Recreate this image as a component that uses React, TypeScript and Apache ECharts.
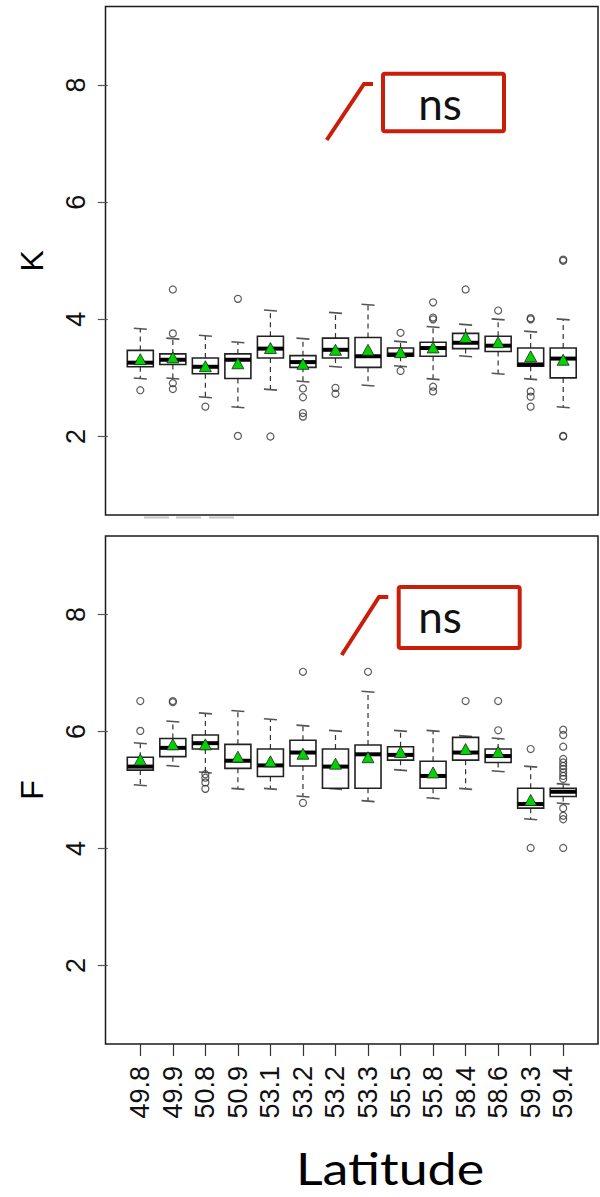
import React, { useEffect, useRef } from 'react';
import * as echarts from 'echarts';

// Categories (latitude of each population)
const latitudes = ['49.8', '49.9', '50.8', '50.9', '53.1', '53.2', '53.2', '53.3', '55.5', '55.8', '58.4', '58.6', '59.3', '59.4'];
const yTicks = [2, 4, 6, 8];

// Panel K: lower whisker, Q1, median, Q3, upper whisker, mean, outliers
const kLow = [2.99, 2.99, 2.67, 2.5, 2.8, 2.94, 3.19, 2.87, 3.2, 2.98, 3.37, 3.07, 2.98, 2.5];
const kQ1 = [3.19, 3.23, 3.07, 2.99, 3.34, 3.18, 3.34, 3.18, 3.37, 3.37, 3.5, 3.45, 3.2, 3.0];
const kMedian = [3.26, 3.31, 3.19, 3.31, 3.5, 3.27, 3.48, 3.37, 3.4, 3.51, 3.6, 3.55, 3.23, 3.33];
const kQ3 = [3.47, 3.41, 3.34, 3.41, 3.71, 3.38, 3.68, 3.69, 3.51, 3.61, 3.76, 3.71, 3.51, 3.51];
const kHigh = [3.84, 3.67, 3.72, 3.61, 4.15, 3.67, 4.11, 4.25, 3.62, 3.87, 3.91, 4.0, 3.79, 4.0];
const kMean = [3.32, 3.35, 3.2, 3.25, 3.51, 3.24, 3.48, 3.48, 3.44, 3.52, 3.7, 3.61, 3.37, 3.31];
const kOutliers = [
  [2.79],
  [4.51, 3.76, 2.91, 2.81],
  [2.51],
  [4.35, 2.01],
  [2.0],
  [2.82, 2.67, 2.4, 2.34],
  [2.83, 2.73],
  [],
  [3.77, 3.12],
  [4.29, 4.03, 4.0, 2.85, 2.77],
  [4.51],
  [4.15],
  [4.02, 4.0, 2.77, 2.68, 2.51],
  [5.02, 5.0, 2.0, 2.01],
];

// Panel F
const fLow = [5.08, 5.41, 5.3, 5.02, 5.02, 4.89, 5.02, 4.81, 5.34, 4.86, 5.02, 5.32, 4.5, 4.77];
const fQ1 = [5.34, 5.57, 5.7, 5.37, 5.23, 5.41, 5.03, 5.03, 5.51, 5.03, 5.51, 5.47, 4.69, 4.89];
const fMedian = [5.4, 5.72, 5.8, 5.5, 5.42, 5.64, 5.4, 5.61, 5.6, 5.24, 5.64, 5.58, 4.76, 4.97];
const fQ3 = [5.56, 5.88, 5.94, 5.78, 5.7, 5.85, 5.7, 5.77, 5.74, 5.49, 5.9, 5.7, 5.03, 5.03];
const fHigh = [5.8, 6.17, 6.31, 6.35, 6.21, 6.1, 6.01, 6.68, 6.01, 6.01, 5.92, 5.88, 5.4, 5.1];
const fMean = [5.52, 5.78, 5.78, 5.57, 5.49, 5.62, 5.45, 5.56, 5.65, 5.3, 5.7, 5.65, 4.83, null];
const fOutliers = [
  [6.52, 6.01],
  [6.52, 6.5],
  [5.27, 5.21, 5.13, 5.02],
  [],
  [],
  [7.02, 4.78],
  [],
  [7.02],
  [],
  [],
  [6.52],
  [6.52, 6.02],
  [5.7, 4.01],
  [6.03, 5.94, 5.74, 5.53, 5.47, 5.41, 5.36, 5.3, 5.24, 5.19, 4.69, 4.56, 4.5, 4.01],
];

const positions = latitudes.map((_, i) => i + 1);

const boxRows = (lo: number[], q1: number[], md: number[], q3: number[], hi: number[]) =>
  positions.map((p, i) => [p, lo[i], q1[i], md[i], q3[i], hi[i]]);
const outlierPoints = (outs: number[][]) => outs.flatMap((vals, i) => vals.map((v) => [i + 1, v]));
const meanPoints = (means: (number | null)[]) =>
  means.map((m, i) => (m == null ? null : [i + 1, m])).filter((d) => d !== null);

const RED = '#C81E0A';
const AXIS_FONT = 'Liberation Sans';

const renderBox = (params: any, api: any) => {
  const x = api.value(0);
  const pLow = api.coord([x, api.value(1)]);
  const pQ1 = api.coord([x, api.value(2)]);
  const pMed = api.coord([x, api.value(3)]);
  const pQ3 = api.coord([x, api.value(4)]);
  const pHigh = api.coord([x, api.value(5)]);
  const bw = api.size([0.8, 0])[0];
  const cw = api.size([0.4, 0])[0];
  const cx = pMed[0];
  const dash = { stroke: '#333', lineWidth: 1.2, lineDash: [5, 4], fill: null };
  const cap = { stroke: '#555', lineWidth: 1.6 };
  return {
    type: 'group',
    children: [
      { type: 'line', shape: { x1: cx, y1: pQ3[1], x2: cx, y2: pHigh[1] }, style: dash },
      { type: 'line', shape: { x1: cx, y1: pQ1[1], x2: cx, y2: pLow[1] }, style: dash },
      { type: 'line', shape: { x1: cx - cw / 2, y1: pHigh[1] - 0.5, x2: cx + cw / 2, y2: pHigh[1] + 0.5 }, style: cap },
      { type: 'line', shape: { x1: cx - cw / 2, y1: pLow[1] - 0.5, x2: cx + cw / 2, y2: pLow[1] + 0.5 }, style: cap },
      {
        type: 'rect',
        shape: { x: cx - bw / 2, y: pQ3[1], width: bw, height: pQ1[1] - pQ3[1] },
        style: { fill: '#fff', stroke: '#222', lineWidth: 1.6 },
      },
      {
        type: 'line',
        shape: { x1: cx - bw / 2, y1: pMed[1], x2: cx + bw / 2, y2: pMed[1] },
        style: { stroke: '#000', lineWidth: 4 },
      },
    ],
  };
};

const yAxisFor = (gridIndex: number, name: string) => ({
  gridIndex,
  type: 'value',
  min: 0.66,
  max: 9.34,
  name,
  nameLocation: 'middle',
  nameRotate: 90,
  nameGap: 58,
  nameTextStyle: { fontSize: 32, fontFamily: AXIS_FONT, color: '#000' },
  axisLine: { show: false },
  axisTick: { show: true, length: 10, customValues: yTicks, lineStyle: { color: '#555', width: 1.2 } },
  axisLabel: {
    customValues: yTicks,
    rotate: 90,
    fontSize: 27,
    fontFamily: AXIS_FONT,
    color: '#111',
    margin: 16,
  },
  splitLine: { show: false },
});

const seriesFor = (idx: number, rows: any[], outs: any[], means: any[]) => [
  {
    type: 'custom',
    xAxisIndex: idx,
    yAxisIndex: idx,
    renderItem: renderBox,
    encode: { x: 0, y: [1, 2, 3, 4, 5] },
    data: rows,
    z: 2,
  },
  {
    type: 'scatter',
    xAxisIndex: idx,
    yAxisIndex: idx,
    symbol: 'circle',
    symbolSize: 7,
    itemStyle: { color: 'rgba(255,255,255,0)', borderColor: '#333', borderWidth: 1.2 },
    data: outs,
    z: 3,
  },
  {
    type: 'scatter',
    xAxisIndex: idx,
    yAxisIndex: idx,
    symbol: 'triangle',
    symbolSize: [12, 11],
    itemStyle: { color: '#00D400', borderColor: '#222', borderWidth: 0.8, opacity: 1 },
    data: means,
    z: 4,
  },
];

const textStyle = (text: string, font: string, fill: string, lineHeight: number) => ({
  text,
  font,
  fill,
  lineHeight,
  align: 'center',
  verticalAlign: 'middle',
  textAlign: 'center',
  textVerticalAlign: 'middle',
});

export default function App() {
  const ref = useRef<HTMLDivElement>(null);
  useEffect(() => {
    if (!ref.current) return;
    const chart = echarts.init(ref.current, null, { renderer: 'svg' });
    const option: any = {
      animation: false,
      backgroundColor: '#fff',
      grid: [
        { left: 105.5, top: 6.5, width: 492.5, height: 508.5, show: true, borderColor: '#1a1a1a', borderWidth: 1.5 },
        { left: 105.5, top: 536, width: 492.5, height: 508, show: true, borderColor: '#1a1a1a', borderWidth: 1.5 },
      ],
      xAxis: [
        {
          gridIndex: 0,
          type: 'value',
          min: -0.07,
          max: 15.07,
          axisLine: { show: false, onZero: false },
          axisTick: { show: false },
          axisLabel: { show: false },
          splitLine: { show: false },
        },
        {
          gridIndex: 1,
          type: 'value',
          min: -0.07,
          max: 15.07,
          axisLine: { show: false, onZero: false },
          axisTick: { show: true, length: 12, customValues: positions, lineStyle: { color: '#333', width: 1.2 } },
          axisLabel: {
            customValues: positions,
            rotate: 90,
            formatter: (v: number) => latitudes[Math.round(v) - 1] ?? '',
            fontSize: 27,
            fontFamily: AXIS_FONT,
            color: '#111',
            margin: 22,
          },
          splitLine: { show: false },
        },
      ],
      yAxis: [yAxisFor(0, 'K'), yAxisFor(1, 'F')],
      series: [
        ...seriesFor(0, boxRows(kLow, kQ1, kMedian, kQ3, kHigh), outlierPoints(kOutliers), meanPoints(kMean)),
        ...seriesFor(1, boxRows(fLow, fQ1, fMedian, fQ3, fHigh), outlierPoints(fOutliers), meanPoints(fMean)),
      ],
      graphic: [
        // Annotation, top panel
        {
          type: 'polyline',
          shape: { points: [[326.7, 140], [364, 84], [373, 84]] },
          style: { stroke: RED, lineWidth: 4, fill: null },
          z: 10,
        },
        {
          type: 'rect',
          shape: { x: 383, y: 73.7, width: 121, height: 57.6, r: 2 },
          style: { stroke: RED, lineWidth: 4, fill: 'rgba(255,255,255,0)' },
          z: 10,
        },
        { type: 'text', x: 440, y: 103, style: textStyle('ns', '44px Lato', '#111', 40), z: 10 },
        // Annotation, bottom panel
        {
          type: 'polyline',
          shape: { points: [[341.7, 655], [379, 597], [388.3, 597]] },
          style: { stroke: RED, lineWidth: 4, fill: null },
          z: 10,
        },
        {
          type: 'rect',
          shape: { x: 398.7, y: 587, width: 121, height: 61, r: 2 },
          style: { stroke: RED, lineWidth: 4, fill: 'rgba(255,255,255,0)' },
          z: 10,
        },
        { type: 'text', x: 440, y: 616, style: textStyle('ns', '44px Lato', '#111', 40), z: 10 },
        // X axis title
        {
          type: 'text',
          x: 390,
          y: 1168,
          scaleX: 1.18,
          style: textStyle('Latitude', '44px Lato', '#000', 36),
          z: 10,
        },
        // faint remnants under the top panel
        { type: 'line', shape: { x1: 144, y1: 517.5, x2: 169, y2: 517.5 }, style: { stroke: '#c4c4c4', lineWidth: 2 } },
        { type: 'line', shape: { x1: 176, y1: 517.5, x2: 201, y2: 517.5 }, style: { stroke: '#c4c4c4', lineWidth: 2 } },
        { type: 'line', shape: { x1: 209, y1: 517.5, x2: 234, y2: 517.5 }, style: { stroke: '#c4c4c4', lineWidth: 2 } },
      ],
    };
    chart.setOption(option);
    return () => chart.dispose();
  }, []);
  return (
    <div
      ref={ref}
      style={{ position: 'absolute', left: 0, top: 0, width: 600, height: 1197, background: '#fff' }}
    />
  );
}
